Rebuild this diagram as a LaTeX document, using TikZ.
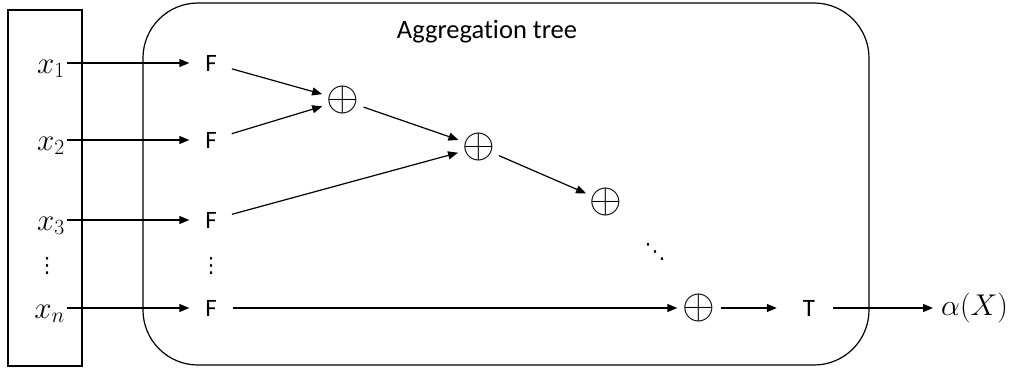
\RequirePackage{fix-cm}
\documentclass[tikz,border=0pt]{standalone}
\usepackage[no-math]{fontspec}
\setmainfont[Ligatures=NoCommon]{Carlito}
\newfontfamily\dejavu{DejaVu Sans}
\usetikzlibrary{arrows.meta}
\tikzset{
  arr/.style={line width=1.2pt,-{Triangle[length=10pt,width=8pt]}},
  frame/.style={line width=1.2pt},
  xlab/.style={anchor=base east,inner xsep=2pt,inner ysep=0pt,font=\fontsize{31}{34}\selectfont},
  fnode/.style={circle,minimum size=43pt,inner sep=0pt,font=\fontsize{25}{28}\selectfont},
  onode/.style={circle,minimum size=43pt,inner sep=0pt,font=\fontsize{42}{46}\selectfont},
  dotsnode/.style={inner sep=0pt,font=\dejavu\fontsize{21}{23}\selectfont},
}
\begin{document}
\begin{tikzpicture}[x=1pt,y=-1pt]
\useasboundingbox (0,0) rectangle (1015,372);
% frames
\draw[frame] (8,10) rectangle (82,366);
\draw[frame,rounded corners=55pt] (143,3) rectangle (869,365);
\node[font=\fontsize{26.5}{30}\selectfont] (title) at (487,32) {Aggregation tree};
% inputs
\node[xlab] (x1) at (67,73) {$x_1$};
\node[xlab] (x2) at (67,150) {$x_2$};
\node[xlab] (x3) at (67,230) {$x_3$};
\node[xlab] (xn) at (67,318) {$x_n$};
\node[dotsnode] (vd1) at (47,266) {⋮};
% F nodes
\node[fnode] (F1) at (211,63) {F};
\node[fnode] (F2) at (211,140) {F};
\node[fnode] (F3) at (211,220) {F};
\node[fnode] (Fn) at (211,308) {F};
\node[dotsnode] (vd2) at (211,266) {⋮};
% oplus nodes
\node[onode] (o1) at (343,100) {$\oplus$};
\node[onode] (o2) at (479,147) {$\oplus$};
\node[onode] (o3) at (606,202) {$\oplus$};
\node[onode] (o4) at (699,308) {$\oplus$};
\node[dotsnode] (dd) at (655,252) {⋱};
% T and output
\node[minimum width=48pt,inner sep=0pt,font=\fontsize{25}{28}\selectfont] (T) at (809,308) {T};
\node[anchor=west,inner xsep=8pt,inner ysep=0pt,font=\fontsize{30}{33}\selectfont] (out) at (933,308) {$\alpha(X)$};
% connectors
\draw[arr] (x1.east |- F1) -- (F1);
\draw[arr] (x2.east |- F2) -- (F2);
\draw[arr] (x3.east |- F3) -- (F3);
\draw[arr] (xn.east |- Fn) -- (Fn);
\draw[arr] (F1) -- (o1);
\draw[arr] (F2) -- (o1);
\draw[arr] (o1) -- (o2);
\draw[arr] (F3) -- (o2);
\draw[arr] (o2) -- (o3);
\draw[arr] (Fn) -- (o4);
\draw[arr] (o4) -- ([xshift=-8pt]T.west);
\draw[arr] (T) -- (out.west);
\end{tikzpicture}
\end{document}
